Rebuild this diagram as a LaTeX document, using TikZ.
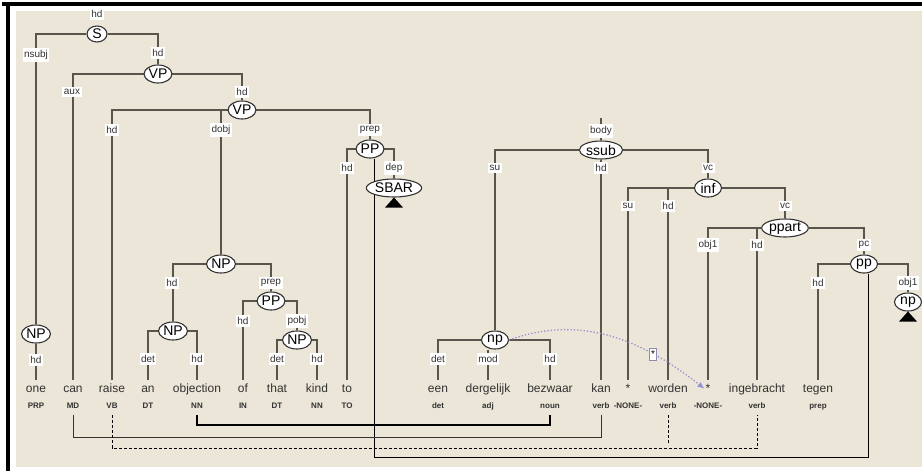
\documentclass[tikz,border=0pt]{standalone}
\usepackage{fontspec}
\setmainfont{Liberation Sans}
\usetikzlibrary{calc, positioning, arrows.meta, shapes.geometric, backgrounds}

\definecolor{panel}{RGB}{236,230,216}
\definecolor{treeline}{RGB}{88,85,76}
\definecolor{ink}{RGB}{50,50,50}
\definecolor{trace}{RGB}{150,146,212}

\tikzset{
    cat/.style={ellipse, draw=ink, line width=1.1pt, fill=white, inner xsep=0.5pt, inner ysep=0pt,
        minimum height=18pt, minimum width=27pt, font=\fontsize{14}{14}\selectfont, text=black},
    rel/.style={fill=white, inner xsep=1.5pt, inner ysep=2pt, font=\fontsize{10}{10}\selectfont, text=ink},
    word/.style={anchor=base, inner xsep=1pt, inner ysep=3pt, text height=9pt, text depth=2.5pt,
        font=\fontsize{12}{12}\selectfont, text=ink},
    tag/.style={anchor=base, inner sep=2pt, text height=6pt, text depth=0pt,
        font=\bfseries\fontsize{8}{8}\selectfont, text=ink},
    edge/.style={draw=treeline, line width=1.9pt},
    alignthin/.style={draw=ink, line width=0.9pt, shorten <=5pt, shorten >=5pt},
    aligndash/.style={draw=black, line width=0.9pt, dash pattern=on 3pt off 2pt, shorten <=5pt, shorten >=5pt},
    alignthick/.style={draw=black, line width=2.8pt, shorten <=5pt, shorten >=5pt},
    crossline/.style={draw=black, line width=0.9pt},
    starmark/.style={solid, draw=trace!60!gray, line width=0.8pt, fill=white, inner xsep=1.5pt, inner ysep=3pt,
        text=black, font=\fontsize{10}{10}\selectfont}
}

\begin{document}
\begin{tikzpicture}[x=1pt, y=-1pt]
    \useasboundingbox (0,0) rectangle (922,471);

    \node[word] (one) at (36,392) {one};
    \node[word] (can) at (73,392) {can};
    \node[word] (raise) at (112,392) {raise};
    \node[word] (an) at (148,392) {an};
    \node[word] (objection) at (197,392) {objection};
    \node[word] (of) at (243,392) {of};
    \node[word] (that) at (277,392) {that};
    \node[word] (kind) at (317,392) {kind};
    \node[word] (to) at (347,392) {to};
    \node[word] (een) at (438,392) {een};
    \node[word] (dergelijk) at (488,392) {dergelijk};
    \node[word] (bezwaar) at (550,392) {bezwaar};
    \node[word] (kan) at (601,392) {kan};
    \node[word] (starA) at (628,392) {*};
    \node[word] (worden) at (668,392) {worden};
    \node[word] (starB) at (708,392) {*};
    \node[word] (ingebracht) at (757,392) {ingebracht};
    \node[word] (tegen) at (818,392) {tegen};

    \node[tag] (tone) at (36,408) {PRP};
    \node[tag] (tcan) at (73,408) {MD};
    \node[tag] (traise) at (112,408) {VB};
    \node[tag] (tan) at (148,408) {DT};
    \node[tag] (tobjection) at (197,408) {NN};
    \node[tag] (tof) at (243,408) {IN};
    \node[tag] (tthat) at (277,408) {DT};
    \node[tag] (tkind) at (317,408) {NN};
    \node[tag] (tto) at (347,408) {TO};
    \node[tag] (teen) at (438,408) {det};
    \node[tag] (tdergelijk) at (488,408) {adj};
    \node[tag] (tbezwaar) at (550,408) {noun};
    \node[tag] (tkan) at (601,408) {verb};
    \node[tag] (tstarA) at (628,408) {-NONE-};
    \node[tag] (tworden) at (668,408) {verb};
    \node[tag] (tstarB) at (708,408) {-NONE-};
    \node[tag] (tingebracht) at (757,408) {verb};
    \node[tag] (ttegen) at (818,408) {prep};

    \node[cat, minimum width=20pt, minimum height=16pt] (S) at (97,34) {S};
    \node[cat] (VPa) at (158,74) {VP};
    \node[cat] (VPb) at (242,110) {VP};
    \node[cat] (PPa) at (370,149) {PP};
    \node[cat] (SBAR) at (394,188) {SBAR};
    \node[cat] (NPa) at (221,264) {NP};
    \node[cat] (PPb) at (271,301) {PP};
    \node[cat] (NPb) at (173,331) {NP};
    \node[cat] (NPc) at (297,340) {NP};
    \node[cat] (NPd) at (36,334) {NP};

    \node[cat] (ssub) at (601,150) {ssub};
    \node[cat] (inf) at (708,188) {inf};
    \node[cat] (ppart) at (785,228) {ppart};
    \node[cat] (pp) at (864,264) {pp};
    \node[cat] (npr) at (908,302) {np};
    \node[cat] (npd) at (495,340) {np};

    \fill[black] (SBAR.south) -- ++(9,10) -- ++(-18,0) -- cycle;
    \fill[black] (npr.south) -- ++(9,10) -- ++(-18,0) -- cycle;

    \begin{scope}[on background layer]
        \fill[white] (0,0) rectangle (922,471);
        \fill[black] (2,2) rectangle (922,6);
        \fill[black] (6,2) rectangle (10,471);
        \fill[panel] (16,11) rectangle (922,467);

        \draw[edge] (S) -| (NPd);
        \draw[edge] (S) -| (VPa);
        \draw[edge] (VPa) -| (can);
        \draw[edge] (VPa) -| (VPb);
        \draw[edge] (VPb) -| (raise);
        \draw[edge] (VPb) -| (NPa);
        \draw[edge] (VPb) -| (PPa);
        \draw[edge] (PPa) -| (to);
        \draw[edge] (PPa) -| (SBAR);
        \draw[edge] (NPa) -| (NPb);
        \draw[edge] (NPa) -| (PPb);
        \draw[edge] (PPb) -| (of);
        \draw[edge] (PPb) -| (NPc);
        \draw[edge] (NPb) -| (an);
        \draw[edge] (NPb) -| (objection);
        \draw[edge] (NPc) -| (that);
        \draw[edge] (NPc) -| (kind);
        \draw[edge] (NPd) -- (one);

        \draw[edge] (ssub.north) -- (ssub.north |- 0,118);
        \draw[edge] (ssub) -| (npd);
        \draw[edge] (ssub) -- (kan);
        \draw[edge] (ssub) -| (inf);
        \draw[edge] (inf) -| (starA);
        \draw[edge] (inf) -| (worden);
        \draw[edge] (inf) -| (ppart);
        \draw[edge] (ppart) -| (starB);
        \draw[edge] (ppart) -| (ingebracht);
        \draw[edge] (ppart) -| (pp);
        \draw[edge] (pp) -| (tegen);
        \draw[edge] (pp) -| (npr);
        \draw[edge] (npd) -| (een);
        \draw[edge] (npd.south -| dergelijk.north) -- (dergelijk);
        \draw[edge] (npd) -| (bezwaar);

        \draw[crossline] ([xshift=4pt]PPa.south) -- ([xshift=4pt]PPa.south |- 0,457) -| ([xshift=4pt]pp.south);
        \draw[alignthin] (tcan.south) -- (tcan.south |- 0,437) -| (tkan.south);
        \draw[aligndash] (traise.south) -- (traise.south |- 0,448) -| (tingebracht.south);
        \draw[aligndash] (tworden.south) -- (tworden.south |- 0,448);
        \draw[alignthick] (tobjection.south) -- (tobjection.south |- 0,425) -| (tbezwaar.south);
    \end{scope}

    \node[rel] (rS) at (97,14) {hd};
    \node[rel] (rNPd) at (36,55) {nsubj};
    \node[rel] (rVPa) at (158,53) {hd};
    \node[rel] (rcan) at (72,92) {aux};
    \node[rel] (rVPb) at (242,92) {hd};
    \node[rel] (rraise) at (112,130) {hd};
    \node[rel] (rNPa) at (221,130) {dobj};
    \node[rel] (rPPa) at (370,130) {prep};
    \node[rel] (rto) at (347,168) {hd};
    \node[rel] (rSBAR) at (394,168) {dep};
    \node[rel] (rNPb) at (172,283) {hd};
    \node[rel] (rPPb) at (271,283) {prep};
    \node[rel] (rof) at (243,321) {hd};
    \node[rel] (rNPc) at (297,321) {pobj};
    \node[rel] (ran) at (148,359) {det};
    \node[rel] (robjection) at (197,359) {hd};
    \node[rel] (rthat) at (277,359) {det};
    \node[rel] (rkind) at (317,359) {hd};
    \node[rel] (rone) at (36,360) {hd};

    \node[rel] (rssub) at (601,131) {body};
    \node[rel] (rnpd) at (495,168) {su};
    \node[rel] (rkan) at (601,168) {hd};
    \node[rel] (rinf) at (708,168) {vc};
    \node[rel] (rstarA) at (628,206) {su};
    \node[rel] (rworden) at (668,206) {hd};
    \node[rel] (rppart) at (785,206) {vc};
    \node[rel] (rstarB) at (708,245) {obj1};
    \node[rel] (ringebracht) at (757,245) {hd};
    \node[rel] (rpp) at (864,245) {pc};
    \node[rel] (rtegen) at (818,283) {hd};
    \node[rel] (rnpr) at (908,283) {obj1};
    \node[rel] (reen) at (438,359) {det};
    \node[rel] (rdergelijk) at (488,359) {mod};
    \node[rel] (rbezwaar) at (550,359) {hd};

    \draw[trace, line width=1.3pt, dotted, -{Latex[length=7pt, width=6pt]}]
        (npd.east) .. controls (570,318) and (630,330) .. (starB.west)
        node[pos=0.76, starmark] (gap) {*};
\end{tikzpicture}
\end{document}
